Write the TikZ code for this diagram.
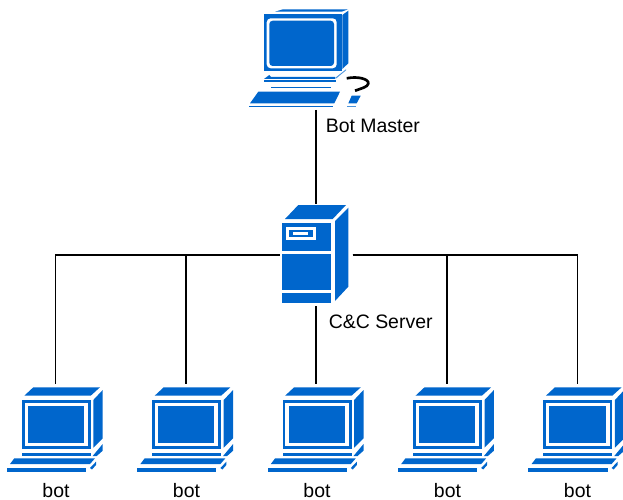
\documentclass[tikz,border=0pt]{standalone}
\usepackage{fontspec}
\setmainfont{Liberation Sans}
\usetikzlibrary{arrows.meta,calc,positioning}
\definecolor{iconblue}{HTML}{0066CC}
\tikzset{
  iconpart/.style={fill=iconblue,draw=none},
  iconpale/.style={fill=iconblue!70!white,draw=none},
  iconhole/.style={fill=white,draw=none},
  iconspot/.style={draw=none,fill=none,inner sep=0pt,outer sep=0pt},
  wire/.style={draw=black,line width=0.95pt},
  caption/.style={inner sep=0pt,font=\fontsize{14.6}{16}\selectfont},
  pics/botpc/.style={code={
    \fill[iconpart] (24.3,395.7) -- (33.3,387.3) -- (100,387.3) -- (90.7,395.7) -- cycle;
    \fill[iconpart] (93.3,400) -- (102.7,390) -- (102.7,438.3) -- (93.3,447.7) -- cycle;
    \fill[iconpart] (21.7,400) rectangle (90.7,449);
    \fill[iconhole] (24.5,402.7) rectangle (88,446);
    \fill[iconpart] (27.7,405.7) rectangle (84,443);
    \fill[iconpart] (21.7,452.7) rectangle (90.7,455.7);
    \fill[iconpart] (92.7,456) -- (102.7,444) -- (102.7,450.7) -- (96.7,456) -- cycle;
    \fill[iconpart] (10,464) -- (14.3,458.3) -- (95,458.3) -- (90,464) -- cycle;
    \fill[iconpart] (6.7,468.3) rectangle (86,472.3);
    \fill[iconpart] (90,468) -- (96,461.7) -- (96,465) -- (92,469.5) -- cycle;
  }},
  pics/serverbox/.style={code={
    \fill[iconpart] (285,219) -- (298.3,205) -- (346,205) -- (332.7,219) -- cycle;
    \fill[iconpart] (335,221) -- (348.3,207.7) -- (348.3,286.7) -- (335,301) -- cycle;
    \fill[iconpart] (282,222.7) rectangle (331.3,251);
    \fill[iconpart] (282,254.3) rectangle (331.3,290);
    \fill[iconpart] (282,293.3) rectangle (331.3,302.7);
    \fill[iconhole] (286,226.7) rectangle (315.7,240);
    \fill[iconpart] (289,230) rectangle (312.7,237.3);
    \fill[iconhole] (293.3,232) rectangle (308.3,235);
  }},
  pics/masterpc/.style={code={
    \fill[iconpart] (275,11.7) -- (283,9.3) -- (348,9.3) -- (341.7,11.7) -- cycle;
    \fill[iconpart] (342.3,15) -- (348.3,10.7) -- (348.3,63.3) -- (342.3,69) -- cycle;
    \fill[iconpart] (264,14.3) rectangle (341.7,70.7);
    \fill[iconhole,rounded corners=3pt] (266.7,18.3) rectangle (336.7,68.3);
    \fill[iconpart,rounded corners=2.5pt] (269.3,20.7) rectangle (334,66);
    \fill[iconpart] (264,79) -- (269.3,75) -- (271,77) -- (335,77) -- (335,79) -- cycle;
    \fill[iconpart] (264,80.3) rectangle (335.7,81.8);
    \fill[iconpart] (270.7,87.3) rectangle (330.7,88.4);
    \fill[iconpale] (335,78) -- (346,69.3) -- (346,70.3) -- (336,78.6) -- cycle;
    \fill[iconpart] (250,103.3) -- (258.3,91.7) -- (340,91.7) -- (334.3,103.3) -- cycle;
    \fill[iconpart] (249.3,106) rectangle (333.3,107.3);
    \fill[iconpart] (348.3,103.3) -- (351.7,95.7) -- (360.7,95.7) -- (356.7,103.3) -- cycle;
    \fill[iconpale] (346.7,106) rectangle (356,107.3);
    \draw[black,line width=2pt] (346.7,78.3) .. controls (358,76) and (369,79) .. (368.3,83.5) .. controls (368,87) and (361,88.5) .. (355,90.7);
  }},
}
\begin{document}
\begin{tikzpicture}[x=0.75pt,y=-0.75pt]
    \useasboundingbox (0,0) rectangle (623,499);
    % icons
    \pic at (0,0) {masterpc};
    \pic at (0,0) {serverbox};
    \foreach \n/\dx in {1/0,2/130.4,3/260.8,4/391.2,5/521.6}
      \pic at (\dx,0) {botpc};
    % spots the wires end on
    \node[iconspot,minimum width=75pt,minimum height=75pt,anchor=south] (master) at (316,110) {};
    \node[iconspot,minimum width=54.75pt,minimum height=76.5pt] (server) at (316,255) {};
    \foreach \n/\x in {1/55.5,2/186,3/316,4/447,5/577.5}
      \node[iconspot,minimum width=60pt,minimum height=65pt,anchor=north] (bot\n) at (\x,384) {};
    % labels
    \node[caption,anchor=west] (masterlabel) at (325.5,126) {Bot Master};
    \node[caption,anchor=west] (serverlabel) at (328.5,322) {C\&C Server};
    \foreach \n/\x in {1/56,2/186.5,3/317,4/447.5,5/577.5}
      \node[caption] (botlabel\n) at (\x,490.4) {bot};
    % wires
    \draw[wire] (master.south) -- (server.north);
    \draw[wire] (server.south) -- (bot3.north);
    \draw[wire] (server.west) -| (bot1.north);
    \draw[wire] (server.west) -| (bot2.north);
    \draw[wire] (server.east) -| (bot4.north);
    \draw[wire] (server.east) -| (bot5.north);
\end{tikzpicture}
\end{document}
